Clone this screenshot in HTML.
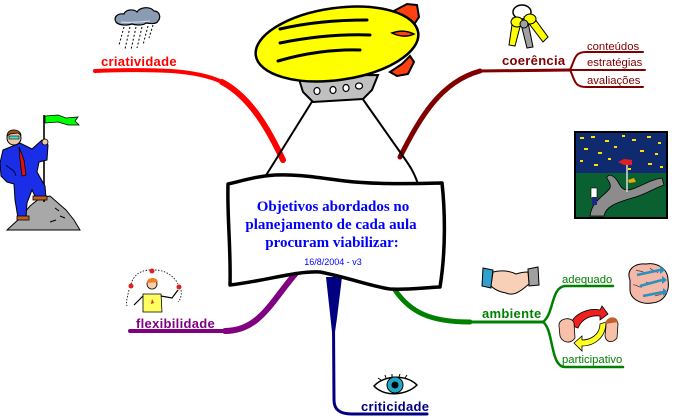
<!DOCTYPE html>
<html><head><meta charset="utf-8"><style>
html,body{margin:0;padding:0;background:#fff;}
svg{display:block;}
.b{font-family:"Liberation Sans",sans-serif;font-weight:bold;font-size:13px;letter-spacing:0.3px;}
.s{font-family:"Liberation Sans",sans-serif;font-size:11.3px;}
.c{font-family:"Liberation Serif",serif;font-weight:bold;font-size:15px;fill:#0000ff;}
</style></head><body>
<svg width="673" height="417" viewBox="0 0 673 417" xmlns="http://www.w3.org/2000/svg">
<rect width="673" height="417" fill="#fff"/>

<!-- branches -->
<g fill="none" stroke-linecap="round">
 <path d="M95,71 C150,69 195,69 222,82" stroke="#ff0000" stroke-width="4"/>
 <path d="M222,82 C250,97 268,128 283,160" stroke="#ff0000" stroke-width="6"/>
 <path d="M400,157 C420,118 440,82 480,71" stroke="#800000" stroke-width="5"/>
 <path d="M480,71 L570,70" stroke="#800000" stroke-width="3"/>
 <path d="M570,70 C575,60 574,52 586,52 L643,52" stroke="#800000" stroke-width="2"/>
 <path d="M570,70 L645,70" stroke="#800000" stroke-width="2"/>
 <path d="M570,70 C575,80 574,87 586,87 L643,87" stroke="#800000" stroke-width="2"/>
 <path d="M130,331 L225,331" stroke="#800080" stroke-width="4"/>
 <path d="M225,331 C260,331 272,300 297,272" stroke="#800080" stroke-width="6"/>
 <path d="M333.5,325 L334,400 C334,410 340,414 352,414 L427,414" stroke="#000080" stroke-width="3"/>
 <path d="M395,290 C410,312 430,322 470,322" stroke="#008000" stroke-width="5"/>
 <path d="M470,322 L543,322" stroke="#008000" stroke-width="3"/>
 <path d="M543,322 C554,314 551,287 565,286 L613,286" stroke="#008000" stroke-width="2.5"/>
 <path d="M543,322 C554,330 550,367 565,367 L623,367" stroke="#008000" stroke-width="2.5"/>
</g>
<polygon points="326,277 342,277 337,318 335,332 332,332" fill="#000080"/>

<!-- gondola lines -->
<path d="M313,100 L265,177" stroke="#000" stroke-width="2" fill="none"/>
<path d="M362,98 L400,152 C410,166 414,172 418,184" stroke="#000" stroke-width="2" fill="none"/>

<!-- center box -->
<path d="M228,184 C245,180 258,176 275,175 C300,174 320,178 345,181 C370,184 400,184 442,183 C445,210 446,250 440,287 C420,288 405,290 390,289 C370,286 350,278 320,272 C295,271 270,280 230,285 C231,250 227,215 228,184 Z" fill="#fff" stroke="#000" stroke-width="3.5" stroke-linejoin="round"/>
<text class="c" x="333" y="211" text-anchor="middle">Objetivos abordados no</text>
<text class="c" x="331" y="229" text-anchor="middle">planejamento de cada aula</text>
<text class="c" x="332" y="247" text-anchor="middle">procuram viabilizar:</text>
<text x="333" y="265" text-anchor="middle" font-family="Liberation Sans, sans-serif" font-size="9" fill="#0000ff">16/8/2004 - v3</text>

<!-- airship -->
<polygon points="390,13 407,4 417,5 419,17 413,26 402,19" fill="#ff4010" stroke="#000" stroke-width="2"/>
<polygon points="390,72 402,64 410,56 414,62 408,74 397,76" fill="#ff4010" stroke="#000" stroke-width="2"/>
<polygon points="298,76 378,75 372,90 363,99 313,102 303,92" fill="#c0c0c0" stroke="#000" stroke-width="2"/>
<g fill="#fff" stroke="#000" stroke-width="1.2">
 <ellipse cx="317" cy="91" rx="3" ry="3.5"/><ellipse cx="333" cy="90" rx="3" ry="3.5"/>
 <ellipse cx="346" cy="88" rx="3" ry="3.5"/><ellipse cx="359" cy="86" rx="3.5" ry="3"/>
</g>
<ellipse cx="337" cy="44" rx="82" ry="36" transform="rotate(-8 337 44)" fill="#ffff00" stroke="#000" stroke-width="2.5"/>
<g fill="none" stroke="#000" stroke-width="3" stroke-linecap="round">
 <path d="M280,29 C310,22 340,20 367,20"/>
 <path d="M280,43 C310,37 340,34 370,35"/>
 <path d="M278,61 C305,53 335,49 360,50"/>
</g>
<path d="M392,33 C400,30 408,31 414,34 C408,37 400,37 392,33Z" fill="#ff4010" stroke="#000" stroke-width="1.5"/>

<!-- labels -->
<text class="b" x="101" y="66" fill="#ff0000">criatividade</text>
<text class="b" x="502" y="65" fill="#800000">coerência</text>
<text class="s" x="587" y="50" fill="#800000">conteúdos</text>
<text class="s" x="587" y="66" fill="#800000">estratégias</text>
<text class="s" x="587" y="84" fill="#800000">avaliações</text>
<text class="b" x="136" y="328" fill="#800080">flexibilidade</text>
<text class="b" x="361" y="411" fill="#000080">criticidade</text>
<text class="b" x="482" y="318" fill="#008000">ambiente</text>
<text class="s" x="562" y="283" fill="#008000">adequado</text>
<text class="s" x="562" y="363" fill="#008000">participativo</text>

<!-- rain cloud -->
<g stroke="#000" stroke-width="1" stroke-dasharray="2,2">
 <line x1="124" y1="27" x2="119" y2="45"/><line x1="130" y1="27" x2="125" y2="49"/>
 <line x1="136" y1="27" x2="131" y2="50"/><line x1="142" y1="27" x2="137" y2="48"/>
 <line x1="148" y1="26" x2="143" y2="45"/><line x1="153" y1="25" x2="149" y2="38"/>
</g>
<path d="M116,22 C113,17 118,13 124,14 C126,9 134,9 137,12 C140,7 150,6 154,11 C160,11 161,18 158,21 C157,24 152,24 146,23 C143,26 135,25 132,24 C126,26 118,25 116,22Z" fill="#8a9cb4" stroke="#000" stroke-width="1.2"/>
<path d="M121,22 C130,23 140,22 150,21" stroke="#dfe6f0" stroke-width="1" fill="none"/>

<!-- man with flag -->
<polygon points="7,230 20,218 30,206 40,198 50,196 58,203 66,210 74,220 80,230" fill="#a8a8a8" stroke="#000" stroke-width="1"/>
<path d="M55,208 l4,3 M60,216 l5,2 M50,222 l6,-2" stroke="#000" stroke-width="1"/>
<polygon points="45,116 58,115 66,118 78,117 75,121 79,125 68,125 58,122 45,123" fill="#00ff00" stroke="#000" stroke-width="0.8"/>
<line x1="44" y1="115" x2="44" y2="202" stroke="#000" stroke-width="1.6"/>
<path d="M3,150 L20,143 L32,149 L42,140 L48,145 L47,160 L39,162 L37,172 L45,186 L46,198 L37,200 L32,190 L27,203 L26,217 L18,218 L15,200 L14,184 L7,182 L1,176 L0,163 Z" fill="#1a2ee8" stroke="#000" stroke-width="1"/>
<path d="M6,165 C10,170 14,168 16,176" stroke="#000" stroke-width="0.8" fill="none"/>
<path d="M19,147 L24,160 L26,175 L22,176 L20,160 Z" fill="#e01010" stroke="#000" stroke-width="0.8"/>
<rect x="33" y="196" width="14" height="4" fill="#c06020" stroke="#000" stroke-width="0.8"/>
<rect x="17" y="216" width="12" height="4" fill="#c06020" stroke="#000" stroke-width="0.8"/>
<circle cx="14" cy="138" r="7" fill="#f0c8a0" stroke="#000" stroke-width="1"/>
<path d="M7,136 C7,128 20,128 21,135 L18,133 L10,134Z" fill="#a05020" stroke="#000" stroke-width="0.8"/>
<rect x="9" y="136" width="10" height="3" fill="#40e0e0" stroke="#000" stroke-width="0.6"/>
<circle cx="45" cy="142" r="3" fill="#f0c8a0" stroke="#000" stroke-width="0.8"/>

<!-- keys -->
<ellipse cx="522" cy="12" rx="9" ry="7" fill="none" stroke="#000" stroke-width="1.5"/>
<path d="M513,18 L521,23 L515,46 L509,45 Z" fill="#ffff00" stroke="#000" stroke-width="1"/>
<path d="M520,20 L528,22 L533,47 L527,48 Z" fill="#a0a0a0" stroke="#000" stroke-width="1"/>
<path d="M524,17 L532,15 L548,37 L543,42 Z" fill="#ffff00" stroke="#000" stroke-width="1"/>
<ellipse cx="517" cy="22" rx="6" ry="5" fill="#ffff00" stroke="#000" stroke-width="1"/>
<ellipse cx="530" cy="19" rx="6" ry="5" fill="#ffff00" stroke="#000" stroke-width="1"/>
<ellipse cx="524" cy="24" rx="4" ry="4" fill="#a0a0a0" stroke="#000" stroke-width="1"/>

<!-- night scene -->
<rect x="575" y="132" width="92" height="86" fill="#0a6030" stroke="#000" stroke-width="2"/>
<rect x="576" y="133" width="90" height="40" fill="#102a70"/>
<g fill="#ffe000">
 <rect x="580" y="137" width="4" height="2"/><rect x="591" y="136" width="4" height="2"/><rect x="605" y="140" width="4" height="2"/>
 <rect x="622" y="135" width="3" height="2"/><rect x="632" y="139" width="4" height="2"/><rect x="647" y="136" width="4" height="2"/>
 <rect x="658" y="142" width="3" height="2"/><rect x="584" y="148" width="4" height="2"/><rect x="598" y="152" width="4" height="2"/>
 <rect x="614" y="146" width="3" height="2"/><rect x="640" y="150" width="4" height="2"/><rect x="655" y="153" width="3" height="2"/>
 <rect x="580" y="160" width="3" height="2"/><rect x="594" y="164" width="4" height="2"/><rect x="608" y="158" width="3" height="2"/>
 <rect x="648" y="163" width="4" height="2"/><rect x="660" y="166" width="3" height="2"/><rect x="628" y="168" width="3" height="2"/>
</g>
<path d="M590,216 C592,200 606,195 610,188 C612,180 602,178 610,175 C620,178 618,190 628,190 C640,188 648,180 662,178 L664,185 C650,190 645,195 632,198 C620,202 606,205 604,216 Z" fill="#8c8c8c" stroke="#000" stroke-width="0.8"/>
<line x1="627" y1="160" x2="627" y2="192" stroke="#ddd" stroke-width="1.5"/>
<polygon points="618,162 624,159 632,160 632,165 624,165" fill="#e02020"/>
<polygon points="628,180 634,178 636,182 629,183" fill="#e0b000"/>
<rect x="591" y="188" width="6" height="10" fill="#fff" stroke="#000" stroke-width="0.6"/>
<rect x="592" y="197" width="5" height="8" fill="#1a2a80"/>

<!-- juggler -->
<g fill="none" stroke="#000" stroke-width="0.8" stroke-dasharray="1.5,1.5">
 <path d="M131,284 C134,274 142,270 150,270"/>
 <path d="M155,270 C165,270 174,276 178,284"/>
 <path d="M129,290 C127,298 126,302 127,306"/>
 <path d="M181,290 C182,296 180,300 178,302"/>
</g>
<circle cx="152" cy="271" r="2.5" fill="#e02020"/>
<circle cx="131" cy="286" r="2.5" fill="#e02020"/>
<circle cx="179" cy="287" r="2.5" fill="#e02020"/>
<circle cx="152" cy="284" r="5" fill="#f8d0b0" stroke="#000" stroke-width="0.8"/>
<path d="M147,283 C146,277 157,276 158,282 Z" fill="#f08020"/>
<path d="M143,294 L161,294 L162,312 L143,312 Z" fill="#ffff60" stroke="#000" stroke-width="0.8"/>
<path d="M143,296 L134,305 M161,296 L172,298 L178,290" stroke="#000" stroke-width="1.2" fill="none"/>
<polygon points="152,299 154,303 151,304" fill="#e02020"/>

<!-- eye -->
<path d="M374,386 C384,375 406,374 417,385 C406,396 384,397 374,386 Z" fill="#fff" stroke="#000" stroke-width="1.5"/>
<circle cx="395" cy="385" r="8" fill="#20a8c8" stroke="#000" stroke-width="1"/>
<circle cx="395" cy="385" r="3.5" fill="#000"/>
<path d="M378,378 L381,380 M385,375 L386,378 M392,374 L392,377 M400,374 L399,377 M407,375 L405,378" stroke="#000" stroke-width="1"/>

<!-- handshake -->
<polygon points="483,268 493,270 491,288 482,286" fill="#30a0d0" stroke="#000" stroke-width="1"/>
<polygon points="528,269 538,267 539,285 529,286" fill="#a0a0a0" stroke="#000" stroke-width="1"/>
<path d="M493,272 C502,270 510,271 516,274 C522,272 526,272 528,272 L529,284 C522,290 514,297 506,293 C500,292 495,290 491,286 Z" fill="#f8d0b8" stroke="#000" stroke-width="1"/>

<!-- brain -->
<path d="M630,280 C626,270 634,263 646,264 C656,262 668,268 668,280 C670,292 664,302 652,303 C640,305 630,298 630,290 Z" fill="#f4b8a8" stroke="#000" stroke-width="1"/>
<g stroke="#202020" stroke-width="0.6" fill="none">
 <path d="M636,270 c3,2 6,0 8,3 M650,268 c2,3 6,2 8,5 M633,285 c4,-1 5,3 9,2 M655,296 c3,-2 6,0 8,-3 M646,282 c3,2 5,-1 8,1"/>
</g>
<g stroke="#2a90c0" stroke-width="2.5" fill="none">
 <path d="M637,275 L660,270 M640,286 L662,280 M643,296 L663,292"/>
</g>
<g fill="#2a90c0"><polygon points="660,266 665,270 660,274"/><polygon points="662,276 667,280 662,284"/><polygon points="663,288 668,292 663,296"/></g>

<!-- faces with arrows -->
<path d="M570,325 C575,312 590,308 600,310 L602,306 L608,314 L600,320 L600,316 C592,315 582,318 578,328 Z" fill="#f02020" stroke="#000" stroke-width="0.8"/>
<path d="M606,322 C606,338 594,346 582,346 L582,351 L574,343 L582,336 L582,340 C590,340 600,335 600,324 Z" fill="#ffff20" stroke="#000" stroke-width="0.8"/>
<path d="M559,326 C558,318 572,316 574,323 L575,338 C570,345 562,342 560,336 Z" fill="#f8c0a8" stroke="#000" stroke-width="0.8"/>
<path d="M606,326 C605,318 617,316 618,324 L617,338 C612,344 606,342 605,336 Z" fill="#f8c0a8" stroke="#000" stroke-width="0.8"/>
<path d="M605,324 C606,316 617,315 618,322 Z" fill="#c06030"/>
</svg>
</body></html>
